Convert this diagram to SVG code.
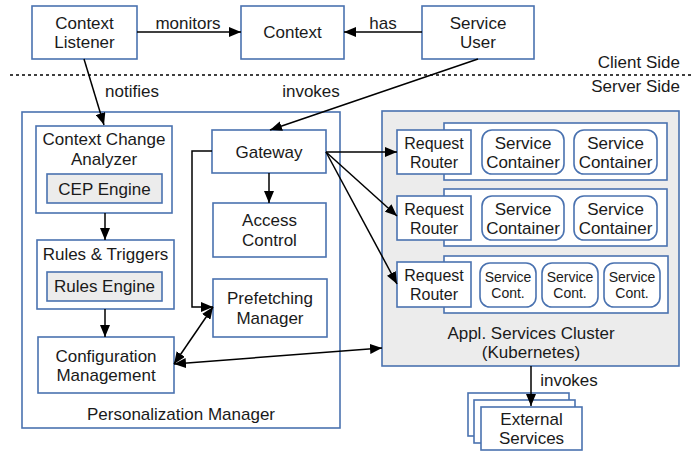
<svg xmlns="http://www.w3.org/2000/svg" width="693" height="451" viewBox="0 0 693 451">
<defs>
<marker id="ah" viewBox="0 0 12 10" refX="12" refY="5" markerWidth="12" markerHeight="10" markerUnits="userSpaceOnUse" orient="auto-start-reverse">
<path d="M0,0 L12,5 L0,10 z" fill="#000"/>
</marker>
<style>
.b{fill:#fff;stroke:#4a72b0;stroke-width:1.6}
.g{fill:#ececec;stroke:#4a72b0;stroke-width:1.6}
.t{font-family:"Liberation Sans",Arial,sans-serif;font-size:17px;fill:#1a1a1a;text-anchor:middle}
.r{font-family:"Liberation Sans",Arial,sans-serif;font-size:16px;fill:#1a1a1a;text-anchor:middle}
.s{font-family:"Liberation Sans",Arial,sans-serif;font-size:14px;fill:#1a1a1a;text-anchor:middle}
.l{fill:none;stroke:#000;stroke-width:1.5}
.a{fill:none;stroke:#000;stroke-width:1.5;marker-end:url(#ah)}
.d{fill:none;stroke:#000;stroke-width:1.5;marker-end:url(#ah);marker-start:url(#ah)}
</style>
</defs>
<rect width="693" height="451" fill="#fff"/>

<g id="divider">
<line x1="10" y1="75" x2="693" y2="75" stroke="#000" stroke-width="1.5" stroke-dasharray="3,3"/>
<text class="t" x="680" y="68" style="text-anchor:end">Client Side</text>
<text class="t" x="680" y="92" style="text-anchor:end">Server Side</text>
</g>

<g id="context-listener">
<rect class="b" x="32" y="6" width="105" height="53"/>
<text class="t" x="84.5" y="29">Context</text>
<text class="t" x="84.5" y="48">Listener</text>
</g>
<g id="context">
<rect class="b" x="241" y="6" width="103" height="53"/>
<text class="t" x="292.5" y="38">Context</text>
</g>
<g id="service-user">
<rect class="b" x="422" y="6" width="112" height="53"/>
<text class="t" x="478" y="29">Service</text>
<text class="t" x="478" y="48">User</text>
</g>

<g id="personalization-manager">
<rect class="b" x="22" y="112" width="318" height="316"/>
<text class="t" x="181" y="420">Personalization Manager</text>
</g>
<g id="context-change-analyzer">
<rect class="b" x="36" y="126" width="136" height="87"/>
<text class="t" x="104" y="145">Context Change</text>
<text class="t" x="104" y="165">Analyzer</text>
<rect class="g" x="47" y="174" width="115" height="29"/>
<text class="t" x="104.5" y="195">CEP Engine</text>
</g>
<g id="rules-triggers">
<rect class="b" x="37" y="240" width="137" height="69"/>
<text class="t" x="105.5" y="260">Rules &amp; Triggers</text>
<rect class="g" x="47" y="272" width="115" height="29"/>
<text class="t" x="104.5" y="292">Rules Engine</text>
</g>
<g id="configuration-management">
<rect class="b" x="38" y="337" width="136" height="56"/>
<text class="t" x="106" y="362">Configuration</text>
<text class="t" x="106" y="381">Management</text>
</g>
<g id="gateway">
<rect class="b" x="212" y="130" width="114" height="43"/>
<text class="t" x="269" y="158">Gateway</text>
</g>
<g id="access-control">
<rect class="b" x="213" y="203" width="113" height="54"/>
<text class="t" x="269.5" y="226">Access</text>
<text class="t" x="269.5" y="246">Control</text>
</g>
<g id="prefetching-manager">
<rect class="b" x="213" y="279" width="114" height="58"/>
<text class="t" x="270" y="304">Prefetching</text>
<text class="t" x="270" y="324">Manager</text>
</g>

<g id="cluster">
<rect class="g" x="382" y="111" width="297" height="255"/>
<text class="t" x="531" y="339">Appl. Services Cluster</text>
<text class="t" x="531" y="358">(Kubernetes)</text>
</g>
<g id="row1">
<rect class="b" x="444" y="123" width="223" height="57"/>
<rect class="b" x="397" y="130" width="74" height="44"/>
<text class="r" x="434" y="149">Request</text>
<text class="r" x="434" y="168">Router</text>
<rect class="b" x="482" y="130" width="82" height="44" rx="10"/>
<text class="t" x="523" y="149">Service</text>
<text class="t" x="523" y="168">Container</text>
<rect class="b" x="574" y="130" width="83" height="44" rx="10"/>
<text class="t" x="615.5" y="149">Service</text>
<text class="t" x="615.5" y="168">Container</text>
</g>
<g id="row2">
<rect class="b" x="444" y="189" width="223" height="57"/>
<rect class="b" x="397" y="196" width="74" height="44"/>
<text class="r" x="434" y="215">Request</text>
<text class="r" x="434" y="234">Router</text>
<rect class="b" x="482" y="196" width="82" height="44" rx="10"/>
<text class="t" x="523" y="215">Service</text>
<text class="t" x="523" y="234">Container</text>
<rect class="b" x="574" y="196" width="83" height="44" rx="10"/>
<text class="t" x="615.5" y="215">Service</text>
<text class="t" x="615.5" y="234">Container</text>
</g>
<g id="row3">
<rect class="b" x="444" y="256" width="224" height="57"/>
<rect class="b" x="397" y="262" width="74" height="45"/>
<text class="r" x="434" y="281">Request</text>
<text class="r" x="434" y="300">Router</text>
<rect class="b" x="480" y="263" width="56" height="44" rx="10"/>
<text class="s" x="508" y="282">Service</text>
<text class="s" x="508" y="298">Cont.</text>
<rect class="b" x="542" y="263" width="56" height="44" rx="10"/>
<text class="s" x="570" y="282">Service</text>
<text class="s" x="570" y="298">Cont.</text>
<rect class="b" x="604" y="263" width="56" height="44" rx="10"/>
<text class="s" x="632" y="282">Service</text>
<text class="s" x="632" y="298">Cont.</text>
</g>

<g id="external-services">
<rect class="b" x="468" y="393" width="101" height="43"/>
<rect class="b" x="474" y="400" width="101" height="43"/>
<rect class="b" x="481" y="407" width="101" height="43"/>
<text class="t" x="531.5" y="425">External</text>
<text class="t" x="531.5" y="444">Services</text>
</g>

<g id="connectors">
<line class="a" x1="137" y1="32" x2="241" y2="32"/>
<text class="t" x="188" y="29">monitors</text>
<line class="a" x1="422" y1="32" x2="344" y2="32"/>
<text class="t" x="383" y="29">has</text>
<line class="a" x1="84" y1="59" x2="104" y2="125"/>
<text class="t" x="132" y="97">notifies</text>
<line class="a" x1="478" y1="59" x2="270" y2="130"/>
<text class="t" x="311" y="97">invokes</text>
<line class="a" x1="105" y1="213" x2="105" y2="240"/>
<line class="a" x1="105" y1="309" x2="105" y2="337"/>
<line class="a" x1="269" y1="173" x2="269" y2="203"/>
<polyline class="a" points="212,151 192,151 192,307 213,307"/>
<line class="d" x1="174" y1="364" x2="213" y2="307"/>
<line class="d" x1="174" y1="364" x2="382" y2="348"/>
<line class="a" x1="326" y1="152" x2="397" y2="152"/>
<line class="a" x1="326" y1="152" x2="397" y2="216"/>
<line class="a" x1="326" y1="152" x2="397" y2="284"/>
<line class="a" x1="531" y1="366" x2="531" y2="406"/>
<text class="t" x="569" y="386">invokes</text>
</g>
</svg>
